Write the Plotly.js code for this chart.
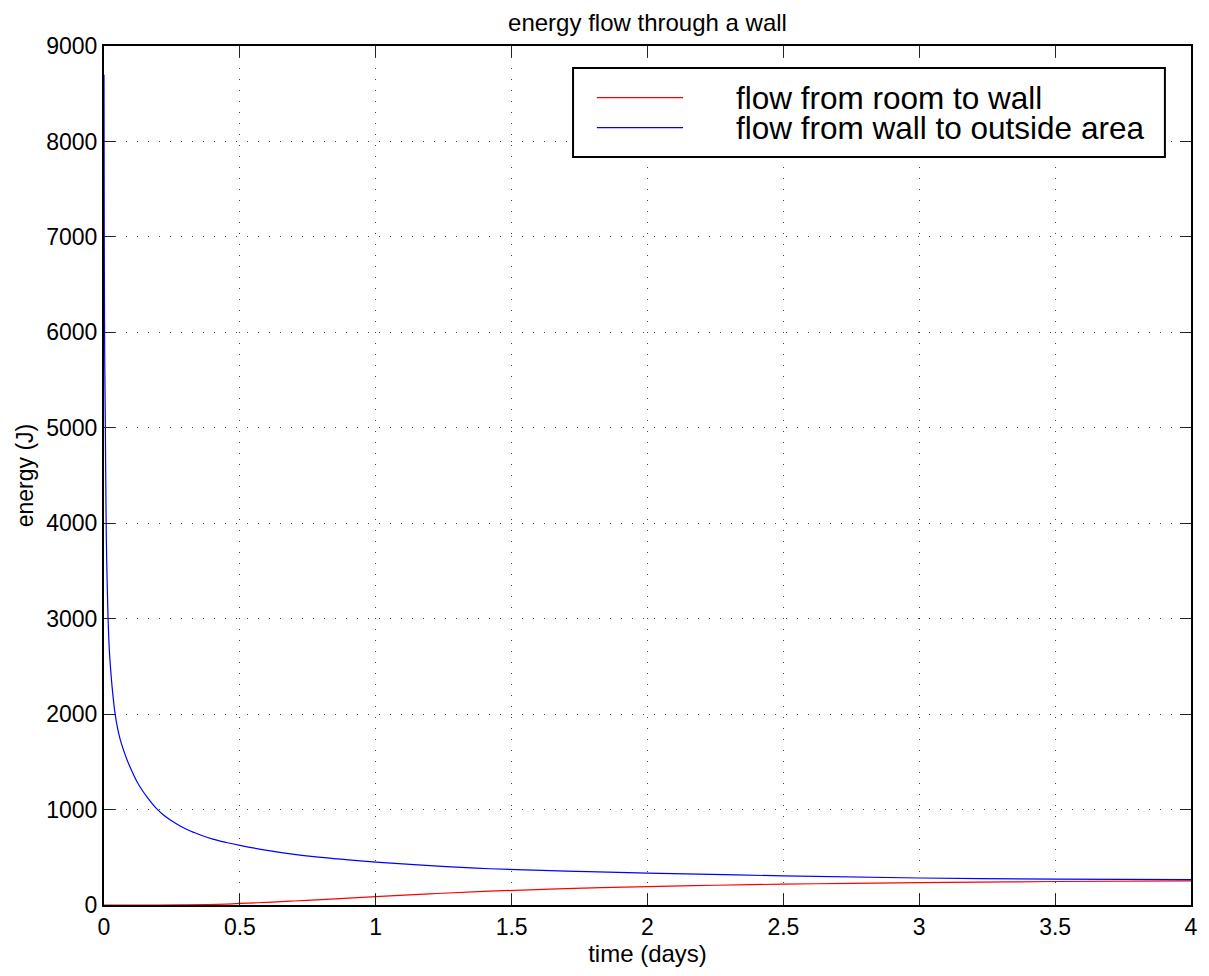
<!DOCTYPE html>
<html>
<head>
<meta charset="utf-8">
<script src="https://cdn.plot.ly/plotly-3.0.1.min.js"></script>
<style>html,body{margin:0;padding:0;background:#fff;}#chart{width:1209px;height:976px;}</style>
</head>
<body>
<div id="chart"></div>
<script>
// time in days
const roomToWallTime = [0, 0.2, 0.3, 0.38, 0.45, 0.5, 0.6, 0.7, 0.8, 0.9, 1.0, 1.2, 1.42, 1.7, 2.0, 2.25, 2.5, 2.75, 3.0, 3.5, 4.0];
const roomToWallEnergy = [0, 0, 1, 4, 10, 16, 28, 42, 57, 72, 87, 117, 145, 172, 193, 207, 218, 227, 234, 246, 252];

const wallToOutsideTime = [0, 0.001, 0.002, 0.003, 0.005, 0.0075, 0.01, 0.015, 0.02, 0.025, 0.03, 0.04, 0.05, 0.06, 0.071, 0.085, 0.1, 0.12, 0.14, 0.16, 0.19, 0.22, 0.25, 0.28, 0.32, 0.36, 0.4, 0.45, 0.5, 0.6, 0.7, 0.8, 0.9, 1.0, 1.2, 1.42, 1.7, 2.0, 2.5, 3.0, 3.5, 4.0];
const wallToOutsideEnergy = [8700, 7000, 6100, 5600, 5000, 4100, 3600, 3000, 2650, 2450, 2280, 2020, 1850, 1730, 1630, 1520, 1420, 1300, 1205, 1125, 1020, 940, 880, 828, 772, 728, 690, 655, 625, 572, 530, 498, 472, 450, 412, 380, 355, 335, 305, 283, 272, 266];

const seriesNames = ['flow from room to wall', 'flow from wall to outside area'];
const seriesColors = ['#ff0000', '#0000ff'];

const titleText = 'energy flow through a wall';
const xTitle = 'time (days)';
const yTitle = 'energy (J)';
const xTicks = [0, 0.5, 1, 1.5, 2, 2.5, 3, 3.5, 4];
const xTickText = ['0', '0.5', '1', '1.5', '2', '2.5', '3', '3.5', '4'];
const yTicks = [0, 1000, 2000, 3000, 4000, 5000, 6000, 7000, 8000, 9000];

const FONT = 'Liberation Sans, Arial, Helvetica, sans-serif';

const traces = [
  {x: roomToWallTime, y: roomToWallEnergy, name: seriesNames[0], type: 'scatter', mode: 'lines',
   line: {color: seriesColors[0], width: 1.2, shape: 'spline', smoothing: 1}, showlegend: false},
  {x: wallToOutsideTime, y: wallToOutsideEnergy, name: seriesNames[1], type: 'scatter', mode: 'lines',
   line: {color: seriesColors[1], width: 1.2, shape: 'spline', smoothing: 1}, showlegend: false}
];

// custom legend box (paper coordinates)
const lgX0 = 0.4315, lgX1 = 0.976, lgY0 = 0.8708, lgY1 = 0.9744;
const sampleX0 = 0.4534, sampleX1 = 0.5327, textX = 0.5805;
const rowY = [0.9398, 0.9049];

const shapes = [
  {type: 'rect', xref: 'paper', yref: 'paper', x0: lgX0, x1: lgX1, y0: lgY0, y1: lgY1,
   line: {color: '#000', width: 2}, fillcolor: '#fff', layer: 'above'}
];
const annotations = [];
for (let i = 0; i < 2; i++) {
  shapes.push({type: 'line', xref: 'paper', yref: 'paper', x0: sampleX0, x1: sampleX1, y0: rowY[i], y1: rowY[i],
    line: {color: seriesColors[i], width: 1.2}, layer: 'above'});
  annotations.push({xref: 'paper', yref: 'paper', x: textX, y: rowY[i], xanchor: 'left', yanchor: 'middle',
    text: seriesNames[i], showarrow: false, borderpad: 0, font: {family: FONT, size: 31.5, color: '#000'}});
}

const axisCommon = {
  showline: true, linecolor: '#000', linewidth: 2, mirror: 'ticks',
  ticks: 'inside', ticklen: 11, tickcolor: '#222', tickwidth: 1,
  showgrid: true, gridcolor: '#444', gridwidth: 1, griddash: '1px,10px',
  zeroline: false, tickfont: {family: FONT, size: 23, color: '#000'}
};

const layout = {
  width: 1209, height: 976,
  margin: {l: 104, r: 18, t: 46, b: 71, pad: 0},
  paper_bgcolor: '#fff', plot_bgcolor: '#fff',
  font: {family: FONT, color: '#000'},
  title: {text: titleText, x: 0.5, xref: 'paper', xanchor: 'center', y: 0.977, yref: 'container', yanchor: 'middle',
          font: {family: FONT, size: 24, color: '#000'}},
  xaxis: Object.assign({}, axisCommon, {
    range: [0, 4], tickvals: xTicks, ticktext: xTickText,
    title: {text: xTitle, font: {family: FONT, size: 24, color: '#000'}, standoff: 7}
  }),
  yaxis: Object.assign({}, axisCommon, {
    range: [0, 9000], tickvals: yTicks,
    title: {text: yTitle, font: {family: FONT, size: 23, color: '#000'}, standoff: 6}
  }),
  shapes: shapes,
  annotations: annotations,
  showlegend: false
};

Plotly.newPlot('chart', traces, layout, {displayModeBar: false, staticPlot: true});
</script>
</body>
</html>
